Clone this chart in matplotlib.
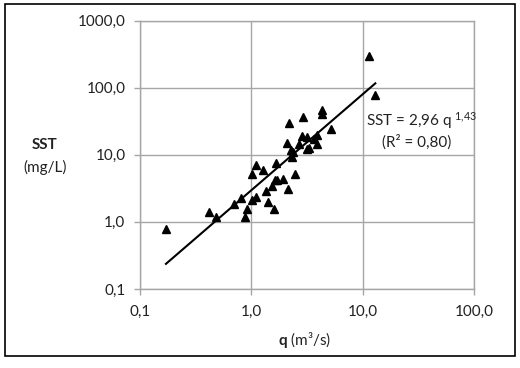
import matplotlib
matplotlib.use("Agg")
import matplotlib.pyplot as plt
import numpy as np
from matplotlib.patches import Rectangle

plt.rcParams['font.family'] = ['Lato', 'DejaVu Sans']
plt.rcParams['mathtext.fontset'] = 'custom'
plt.rcParams['mathtext.rm'] = 'Lato'
plt.rcParams['mathtext.it'] = 'Lato:italic'
plt.rcParams['mathtext.bf'] = 'Lato:bold'

# Data (q in m3/s, SST in mg/L)
q = [0.171, 0.419, 0.484, 0.699, 0.804, 0.914, 0.872, 1.02, 1.10, 1.01,
     1.09, 1.28, 1.68, 1.41, 1.59, 1.35, 1.53, 1.62, 1.69, 1.94,
     2.15, 2.49, 2.33, 2.38, 2.29, 3.14, 3.32, 2.66, 3.91, 2.07,
     3.63, 2.88, 3.18, 3.91, 2.18, 2.91, 4.31, 4.34, 5.22, 11.47, 12.99]
sst = [0.78, 1.39, 1.19, 1.82, 2.30, 1.54, 1.18, 2.13, 2.34, 5.12,
       7.07, 5.92, 7.65, 1.95, 1.54, 2.93, 3.47, 4.15, 4.27, 4.30,
       3.08, 5.16, 9.15, 10.9, 11.7, 12.0, 12.7, 14.3, 14.3, 14.9,
       17.0, 19.0, 18.2, 19.9, 29.7, 36.8, 46.4, 40.0, 23.9, 296.0, 77.6]

# Power fit SST = a * q^b
fit_a = 2.96
fit_b = 1.43
fit_q_range = [0.171, 12.99]

xticks = [0.1, 1, 10, 100]
xticklabels = ["0,1", "1,0", "10,0", "100,0"]
yticks = [0.1, 1, 10, 100, 1000]
yticklabels = ["0,1", "1,0", "10,0", "100,0", "1000,0"]

fig = plt.figure(figsize=(5.2, 3.68), dpi=100)
ax = fig.add_axes([140/520, 1-289/368, 334/520, 268.5/368])

gray = '#a6a6a6'
ax.set_xscale('log')
ax.set_yscale('log')
ax.set_xlim(0.1, 100)
ax.set_ylim(0.1, 1000)
ax.set_xticks(xticks)
ax.set_xticklabels(xticklabels)
ax.set_yticks(yticks)
ax.set_yticklabels(yticklabels)
ax.minorticks_off()
ax.grid(True, color=gray, linewidth=1.0)
ax.set_axisbelow(True)
for s in ax.spines.values():
    s.set_color(gray)
    s.set_linewidth(1.0)
ax.tick_params(axis='both', colors=gray, labelcolor='#222222', labelsize=11,
               length=4.5, width=1.0, direction='out')
ax.tick_params(axis='y', pad=6)
ax.tick_params(axis='x', pad=7)

qf = np.geomspace(fit_q_range[0], fit_q_range[1], 100)
ax.plot(qf, fit_a * qf ** fit_b, color='black', linewidth=1.5, zorder=3)
ax.plot(q, sst, linestyle='none', marker='^', color='black', markersize=6.2, zorder=4)

ax.text(0.677, 0.626, r"SST = 2,96 q $^{1{,}43}$", transform=ax.transAxes,
        ha='left', va='center', fontsize=11, color='#222222')
ax.text(0.829, 0.547, "(R² = 0,80)", transform=ax.transAxes,
        ha='center', va='center', fontsize=11, color='#222222')

fig.text(45/520, 1-145/368, "SST", ha='center', va='center', fontsize=11,
         fontweight='bold', color='#222222')
fig.text(45/520, 1-167/368, "(mg/L)", ha='center', va='center', fontsize=11,
         color='#222222')
fig.text(305/520, 1-340/368, r"$\mathbf{q}$ (m³/s)", ha='center', va='center',
         fontsize=11, color='#222222')

fig.patches.append(Rectangle((5/520, 1-356/368), 510/520, 352/368,
                             transform=fig.transFigure, fill=False,
                             edgecolor='black', linewidth=1.2))

fig.savefig("out.png", dpi=100)
